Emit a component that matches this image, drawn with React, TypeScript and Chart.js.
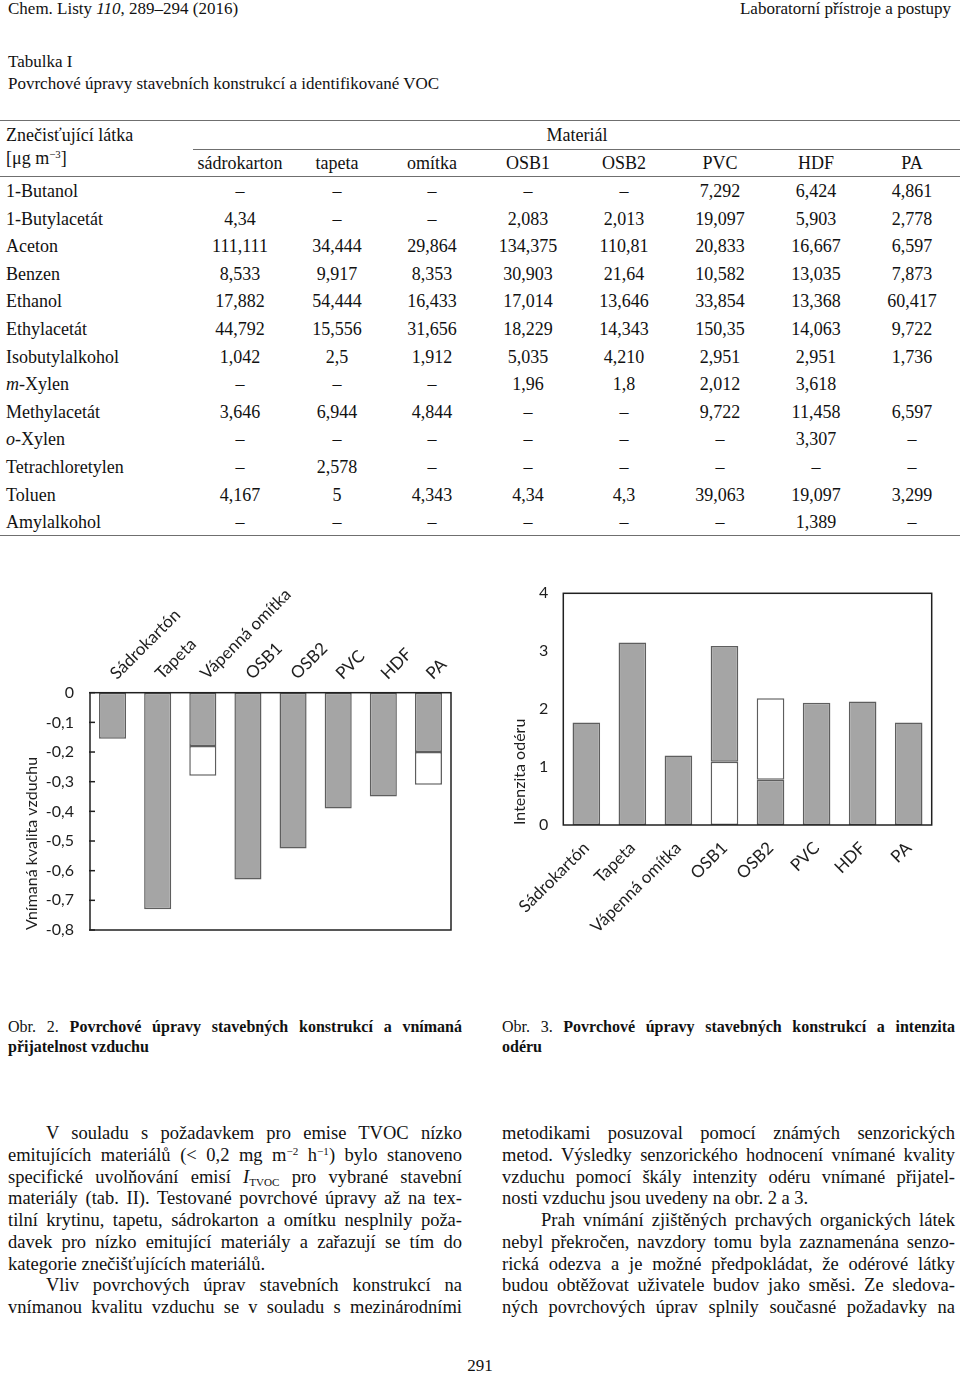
import React, { useEffect, useRef } from "react";
import { Chart, registerables } from "chart.js";

Chart.register(...registerables);

// ---------- chart data ----------
const chartCategories = ["Sádrokartón", "Tapeta", "Vápenná omítka", "OSB1", "OSB2", "PVC", "HDF", "PA"];

// Obr. 2 – vnímaná kvalita vzduchu
const airQualityGray = [-0.155, -0.73, -0.18, -0.63, -0.525, -0.39, -0.35, -0.2];
const airQualityWhite = [null, null, -0.1, null, null, null, null, -0.11];
const airQualityTickValues = [-0.8, -0.7, -0.6, -0.5, -0.4, -0.3, -0.2, -0.1, 0];
const airQualityTickLabels = ["-0,8", "-0,7", "-0,6", "-0,5", "-0,4", "-0,3", "-0,2", "-0,1", "0"];

// Obr. 3 – intenzita odéru
const odourGrayLower = [1.77, 3.15, 1.2, null, 0.78, 2.11, 2.13, 1.77];
const odourWhite = [null, null, null, 1.09, 1.41, null, null, null];
const odourGrayUpper = [null, null, null, 2.0, null, null, null, null];
const odourTickValues = [0, 1, 2, 3, 4];
const odourTickLabels = ["0", "1", "2", "3", "4"];

// ---------- table data ----------
const tableMaterials = ["sádrokarton", "tapeta", "omítka", "OSB1", "OSB2", "PVC", "HDF", "PA"];
const tableSubstances = [
  "1-Butanol", "1-Butylacetát", "Aceton", "Benzen", "Ethanol", "Ethylacetát", "Isobutylalkohol",
  "m-Xylen", "Methylacetát", "o-Xylen", "Tetrachloretylen", "Toluen", "Amylalkohol",
];
const rowButanol = ["–", "–", "–", "–", "–", "7,292", "6,424", "4,861"];
const rowButylacetat = ["4,34", "–", "–", "2,083", "2,013", "19,097", "5,903", "2,778"];
const rowAceton = ["111,111", "34,444", "29,864", "134,375", "110,81", "20,833", "16,667", "6,597"];
const rowBenzen = ["8,533", "9,917", "8,353", "30,903", "21,64", "10,582", "13,035", "7,873"];
const rowEthanol = ["17,882", "54,444", "16,433", "17,014", "13,646", "33,854", "13,368", "60,417"];
const rowEthylacetat = ["44,792", "15,556", "31,656", "18,229", "14,343", "150,35", "14,063", "9,722"];
const rowIsobutylalkohol = ["1,042", "2,5", "1,912", "5,035", "4,210", "2,951", "2,951", "1,736"];
const rowMXylen = ["–", "–", "–", "1,96", "1,8", "2,012", "3,618", ""];
const rowMethylacetat = ["3,646", "6,944", "4,844", "–", "–", "9,722", "11,458", "6,597"];
const rowOXylen = ["–", "–", "–", "–", "–", "–", "3,307", "–"];
const rowTetrachloretylen = ["–", "2,578", "–", "–", "–", "–", "–", "–"];
const rowToluen = ["4,167", "5", "4,343", "4,34", "4,3", "39,063", "19,097", "3,299"];
const rowAmylalkohol = ["–", "–", "–", "–", "–", "–", "1,389", "–"];
const tableRows = [
  rowButanol, rowButylacetat, rowAceton, rowBenzen, rowEthanol, rowEthylacetat, rowIsobutylalkohol,
  rowMXylen, rowMethylacetat, rowOXylen, rowTetrachloretylen, rowToluen, rowAmylalkohol,
];

// ---------- styles ----------
const SERIF = "'Liberation Serif', 'Times New Roman', serif";
const SANS = "Lato, 'Open Sans', sans-serif";
const BAR_GRAY = "#a5a5a5";
const BAR_EDGE = "#5e5e5e";
const INK = "#1e1e1e";

const framePlugin = {
  id: "frame",
  afterDatasetsDraw(chart: any, _args: any, opts: any) {
    const { ctx, chartArea: a } = chart;
    ctx.save();
    ctx.strokeStyle = opts.color || "#222";
    ctx.lineWidth = opts.width || 1.5;
    ctx.strokeRect(a.left, a.top, a.right - a.left, a.bottom - a.top);
    if (opts.yTicks) {
      const ys = chart.scales.y;
      ys.ticks.forEach((_t: any, i: number) => {
        const py = ys.getPixelForTick(i);
        ctx.beginPath();
        ctx.moveTo(a.left - 1, py);
        ctx.lineTo(a.left + 5, py);
        ctx.stroke();
      });
    }
    ctx.restore();
  },
};

function barDataset(data: (number | null)[], fill: string) {
  return {
    data,
    backgroundColor: fill,
    borderColor: BAR_EDGE,
    borderWidth: 1.5,
    borderSkipped: false as const,
    stack: "s",
    categoryPercentage: 1,
    barPercentage: 0.6,
  };
}

function fixYAxisBox(width: number) {
  return (s: any) => {
    s.width = width;
    s.paddingTop = 0;
    s.paddingBottom = 0;
  };
}

function airQualityConfig(): any {
  return {
    type: "bar",
    data: {
      labels: chartCategories,
      datasets: [barDataset(airQualityGray, BAR_GRAY), barDataset(airQualityWhite, "#ffffff")],
    },
    plugins: [framePlugin],
    options: {
      animation: false,
      responsive: true,
      maintainAspectRatio: false,
      layout: { padding: { left: 0, right: 29, top: 0, bottom: 20 } },
      plugins: {
        legend: { display: false },
        tooltip: { enabled: false },
        frame: { color: "#202020", width: 1.5, yTicks: true },
      },
      scales: {
        x: {
          position: "top",
          stacked: true,
          grid: { display: false, drawTicks: false },
          border: { display: false },
          ticks: {
            autoSkip: false,
            minRotation: 45,
            maxRotation: 45,
            padding: 9,
            labelOffset: 15,
            color: INK,
            font: { family: SANS, size: 17 },
          },
          afterFit: (s: any) => {
            s.height = 112.7;
          },
        },
        y: {
          stacked: true,
          min: -0.8,
          max: 0,
          grid: { display: false, drawTicks: false },
          border: { display: false },
          afterBuildTicks: (s: any) => {
            s.ticks = airQualityTickValues.map((v) => ({ value: v }));
          },
          ticks: {
            padding: 16,
            color: INK,
            font: { family: SANS, size: 16 },
            callback: (v: number) => airQualityTickLabels[airQualityTickValues.indexOf(v)],
          },
          title: {
            display: true,
            text: "Vnímaná kvalita vzduchu",
            align: "start",
            color: INK,
            padding: { top: 22, bottom: 0 },
            font: { family: SANS, size: 16 },
          },
          afterFit: fixYAxisBox(90),
        },
      },
    },
  };
}

function odourConfig(): any {
  return {
    type: "bar",
    data: {
      labels: chartCategories,
      datasets: [
        barDataset(odourGrayLower, BAR_GRAY),
        barDataset(odourWhite, "#ffffff"),
        barDataset(odourGrayUpper, BAR_GRAY),
      ],
    },
    plugins: [framePlugin],
    options: {
      animation: false,
      responsive: true,
      maintainAspectRatio: false,
      layout: { padding: { left: 0, right: 28.3, top: 23.3, bottom: 0 } },
      plugins: {
        legend: { display: false },
        tooltip: { enabled: false },
        frame: { color: "#202020", width: 1.5, yTicks: false },
      },
      scales: {
        x: {
          position: "bottom",
          stacked: true,
          grid: { display: false, drawTicks: false },
          border: { display: false },
          ticks: {
            autoSkip: false,
            minRotation: 45,
            maxRotation: 45,
            padding: 13,
            color: INK,
            font: { family: SANS, size: 17 },
          },
          afterFit: (s: any) => {
            s.height = 125;
          },
        },
        y: {
          stacked: true,
          min: 0,
          max: 4,
          grid: { display: false, drawTicks: false },
          border: { display: false },
          afterBuildTicks: (s: any) => {
            s.ticks = odourTickValues.map((v) => ({ value: v }));
          },
          ticks: {
            padding: 15,
            color: INK,
            font: { family: SANS, size: 16 },
            callback: (v: number) => odourTickLabels[odourTickValues.indexOf(v)],
          },
          title: {
            display: true,
            text: "Intenzita odéru",
            align: "start",
            color: INK,
            padding: { top: 30, bottom: 0 },
            font: { family: SANS, size: 16 },
          },
          afterFit: fixYAxisBox(83.3),
        },
      },
    },
  };
}

function ChartBox({ build, left, top, width, height }: any) {
  const ref = useRef<HTMLCanvasElement>(null);
  useEffect(() => {
    const chart = new Chart(ref.current as HTMLCanvasElement, build());
    return () => chart.destroy();
  }, []);
  return (
    <div style={{ position: "absolute", left, top, width, height }}>
      <canvas ref={ref} />
    </div>
  );
}

// ---------- text helpers ----------
function Line({ x, cy, w, size = 18, lh = 22, align = "left", children, style }: any) {
  const base: any = {
    position: "absolute",
    top: cy - lh / 2,
    height: lh,
    lineHeight: lh + "px",
    fontSize: size,
    whiteSpace: "nowrap",
  };
  if (align === "center") {
    base.left = x - w / 2;
    base.width = w;
    base.textAlign = "center";
  } else if (align === "right") {
    base.left = x - w;
    base.width = w;
    base.textAlign = "right";
  } else if (align === "justify") {
    base.left = x;
    base.width = w;
    base.textAlign = "justify";
    base.textAlignLast = "justify";
  } else {
    base.left = x;
    if (w) base.width = w;
  }
  return <div style={{ ...base, ...style }}>{children}</div>;
}

const supStyle: any = { fontSize: "0.6em", lineHeight: 0, verticalAlign: "0.55em" };
const subStyle: any = { fontSize: "0.6em", lineHeight: 0, verticalAlign: "-0.25em" };

function SubstanceName({ name }: { name: string }) {
  const m = /^([mo])-(.*)$/.exec(name);
  if (m) {
    return (
      <>
        <i>{m[1]}</i>-{m[2]}
      </>
    );
  }
  return <>{name}</>;
}

const colCenters = [240, 337, 432, 528, 624, 720, 816, 912];
const rowFirstY = 191;
const rowPitch = 27.6;

function HRule({ x1, x2, y }: any) {
  return <div style={{ position: "absolute", left: x1, width: x2 - x1, top: y, height: 1, background: "#6f6f6f" }} />;
}

const bodyLeft = [
  { t: <>V souladu s požadavkem pro emise TVOC nízko</>, indent: 38, j: true },
  { t: <>emitujících materiálů (&lt; 0,2 mg m<span style={supStyle}>−2</span> h<span style={supStyle}>−1</span>) bylo stanoveno</>, j: true },
  { t: <>specifické uvolňování emisí <i>I</i><span style={subStyle}>TVOC</span> pro vybrané stavební</>, j: true },
  { t: <>materiály (tab. II). Testované povrchové úpravy až na tex-</>, j: true },
  { t: <>tilní krytinu, tapetu, sádrokarton a omítku nesplnily poža-</>, j: true },
  { t: <>davek pro nízko emitující materiály a zařazují se tím do</>, j: true },
  { t: <>kategorie znečišťujících materiálů.</>, j: false },
  { t: <>Vliv povrchových úprav stavebních konstrukcí na</>, indent: 38, j: true },
  { t: <>vnímanou kvalitu vzduchu se v souladu s mezinárodními</>, j: true },
];
const bodyRight = [
  { t: <>metodikami posuzoval pomocí známých senzorických</>, j: true },
  { t: <>metod. Výsledky senzorického hodnocení vnímané kvality</>, j: true },
  { t: <>vzduchu pomocí škály intenzity odéru vnímané přijatel-</>, j: true },
  { t: <>nosti vzduchu jsou uvedeny na obr. 2 a 3.</>, j: false },
  { t: <>Prah vnímání zjištěných prchavých organických látek</>, indent: 39, j: true },
  { t: <>nebyl překročen, navzdory tomu byla zaznamenána senzo-</>, j: true },
  { t: <>rická odezva a je možné předpokládat, že odérové látky</>, j: true },
  { t: <>budou obtěžovat uživatele budov jako směsi. Ze sledova-</>, j: true },
  { t: <>ných povrchových úprav splnily současné požadavky na</>, j: true },
];

function BodyColumn({ x, w, lines }: any) {
  return (
    <>
      {lines.map((ln: any, i: number) => {
        const ind = ln.indent || 0;
        return (
          <Line key={i} x={x + ind} w={w - ind} cy={1133 + i * 21.75} size={18.5} align={ln.j ? "justify" : "left"}>
            {ln.t}
          </Line>
        );
      })}
    </>
  );
}

export default function App() {
  return (
    <div
      style={{
        position: "absolute",
        left: 0,
        top: 0,
        width: 960,
        height: 1376,
        overflow: "hidden",
        background: "#fff",
        fontFamily: SERIF,
        color: "#111",
      }}
    >
      {/* page header */}
      <Line x={8} cy={9} size={17}>
        Chem. Listy <i>110</i>, 289–294 (2016)
      </Line>
      <Line x={951} w={400} cy={9} size={17} align="right">
        Laboratorní přístroje a postupy
      </Line>

      <Line x={8} cy={62} size={17}>Tabulka I</Line>
      <Line x={8} cy={84} size={17}>Povrchové úpravy stavebních konstrukcí a identifikované VOC</Line>

      {/* table */}
      <HRule x1={0} x2={960} y={120} />
      <HRule x1={193} x2={960} y={149} />
      <HRule x1={0} x2={960} y={176} />
      <HRule x1={0} x2={960} y={535} />
      <Line x={6} cy={135} size={18}>Znečisťující látka</Line>
      <Line x={6} cy={158} size={18}>
        [μg m<span style={supStyle}>−3</span>]
      </Line>
      <Line x={577} w={200} cy={135} size={18} align="center">Materiál</Line>
      {tableMaterials.map((m, i) => (
        <Line key={m} x={colCenters[i]} w={100} cy={163} size={18} align="center">
          {m}
        </Line>
      ))}
      {tableSubstances.map((name, r) => (
        <React.Fragment key={name}>
          <Line x={6} cy={rowFirstY + r * rowPitch} size={18}>
            <SubstanceName name={name} />
          </Line>
          {tableRows[r].map((v, c) => (
            <Line key={c} x={colCenters[c]} w={100} cy={rowFirstY + r * rowPitch} size={18} align="center">
              {v}
            </Line>
          ))}
        </React.Fragment>
      ))}

      {/* charts */}
      <ChartBox build={airQualityConfig} left={0} top={580} width={480} height={370} />
      <ChartBox build={odourConfig} left={480} top={570} width={480} height={380} />

      {/* captions */}
      <Line x={8} w={454} cy={1027} size={16} lh={20} align="justify">
        Obr. 2. <b>Povrchové úpravy stavebných konstrukcí a vnímaná</b>
      </Line>
      <Line x={8} cy={1047} size={16} lh={20}>
        <b>přijatelnost vzduchu</b>
      </Line>
      <Line x={502} w={453} cy={1027} size={16} lh={20} align="justify">
        Obr. 3. <b>Povrchové úpravy stavebných konstrukcí a intenzita</b>
      </Line>
      <Line x={502} cy={1047} size={16} lh={20}>
        <b>odéru</b>
      </Line>

      {/* body text */}
      <BodyColumn x={8} w={454} lines={bodyLeft} />
      <BodyColumn x={502} w={453} lines={bodyRight} />

      <Line x={480} w={100} cy={1366} size={17} align="center">291</Line>
    </div>
  );
}
